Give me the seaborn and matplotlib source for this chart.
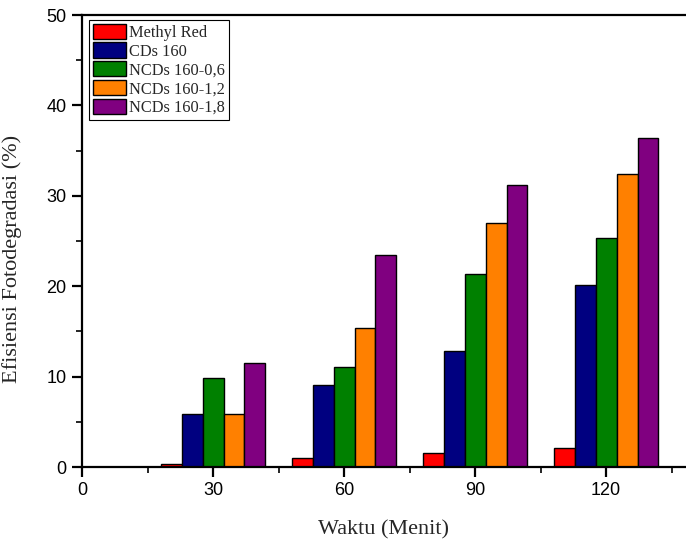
import matplotlib
matplotlib.use("Agg")
import matplotlib.pyplot as plt
from matplotlib.ticker import MultipleLocator
import seaborn as sns
import pandas as pd

# Degradation efficiency (%) at each irradiation time (minutes)
times = [30, 60, 90, 120]
samples = ["Methyl Red", "CDs 160", "NCDs 160-0,6", "NCDs 160-1,2", "NCDs 160-1,8"]
methyl_red = [0.3, 1.0, 1.6, 2.1]
cds_160 = [5.9, 9.1, 12.8, 20.1]
ncds_06 = [9.8, 11.1, 21.4, 25.3]
ncds_12 = [5.9, 15.4, 27.0, 32.4]
ncds_18 = [11.5, 23.4, 31.2, 36.4]
colors = ["#FF0000", "#000080", "#008000", "#FF8000", "#800080"]

series = [methyl_red, cds_160, ncds_06, ncds_12, ncds_18]
rows = []
for name, vals in zip(samples, series):
    for t, v in zip(times, vals):
        rows.append({"Waktu": t, "Efisiensi": v, "Sampel": name})
df = pd.DataFrame(rows)

sns.set_theme(style="white")
plt.rcParams["font.family"] = ["Liberation Sans", "DejaVu Sans"]

fig = plt.figure(figsize=(6.86, 5.43), dpi=100)
ax = fig.add_axes([82 / 686, 1 - 467 / 543, 1 - 82 / 686, (467 - 15) / 543])

sns.barplot(data=df, x="Waktu", y="Efisiensi", hue="Sampel", hue_order=samples,
            palette=colors, native_scale=True, width=0.8, saturation=1,
            edgecolor="black", linewidth=1.0, errorbar=None, ax=ax)

ax.set_xlim(0, 138.3)
ax.set_ylim(0, 50)
ax.xaxis.set_major_locator(MultipleLocator(30))
ax.xaxis.set_minor_locator(MultipleLocator(15))
ax.yaxis.set_major_locator(MultipleLocator(10))
ax.yaxis.set_minor_locator(MultipleLocator(5))
ax.tick_params(which="major", direction="out", length=7, width=1.6,
               labelsize=13, bottom=True, left=True, top=False, right=False,
               colors="black", pad=4)
ax.tick_params(which="minor", direction="out", length=4, width=1.2,
               bottom=True, left=True, top=False, right=False, colors="black")
ax.set_xticks([0, 30, 60, 90, 120])
ax.set_xticklabels(["0", "30", "60", "90", "120"])

for side in ["left", "bottom", "top"]:
    ax.spines[side].set_visible(True)
    ax.spines[side].set_color("black")
    ax.spines[side].set_linewidth(1.6)
ax.spines["right"].set_visible(False)

serif = ["Liberation Serif", "DejaVu Serif"]
ax.set_xlabel("Waktu (Menit)", fontsize=16, family=serif, labelpad=15)
ax.set_ylabel("Efisiensi Fotodegradasi (%)", fontsize=16, family=serif)
ax.yaxis.set_label_coords(-0.1, 0.46)

leg = ax.legend(loc="upper left", bbox_to_anchor=(0.012, 0.99), frameon=True,
                fancybox=False, prop={"family": serif, "size": 11.8},
                handlelength=2.0, handleheight=1.05, handletextpad=0.2,
                labelspacing=0.1, borderpad=0.25, borderaxespad=0)
leg.get_frame().set_edgecolor("black")
leg.get_frame().set_linewidth(0.8)
leg.get_frame().set_alpha(1)

fig.savefig("out.png", dpi=100)
